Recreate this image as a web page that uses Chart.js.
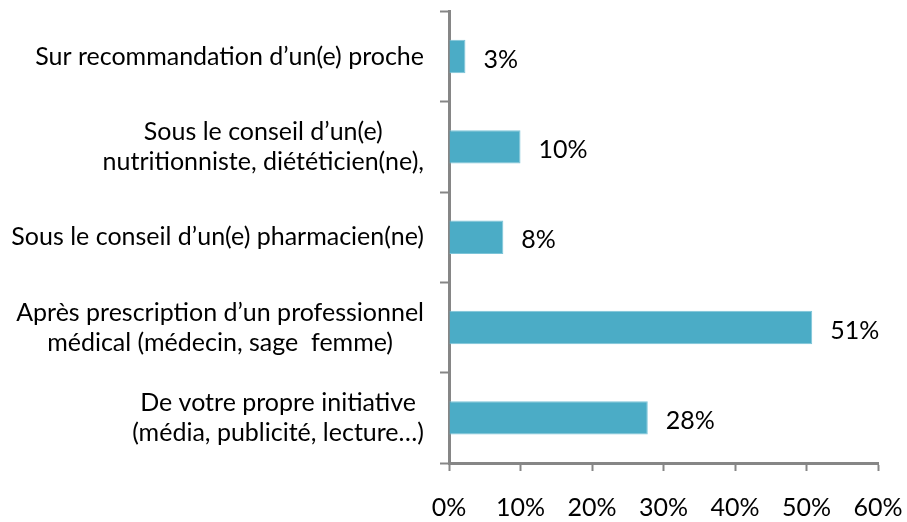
<!DOCTYPE html>
<html>
<head>
<meta charset="utf-8">
<script src="https://cdn.jsdelivr.net/npm/chart.js@4"></script>
<style>
  html, body { margin: 0; padding: 0; background: #fff; }
  #wrap { width: 907px; height: 522px; }
</style>
</head>
<body>
<div id="wrap"><canvas id="chart"></canvas></div>
<script>
// categories, top to bottom
const categories = [
    ['Sur recommandation d\u2019un(e) proche'],
    ['Sous le conseil d\u2019un(e)', 'nutritionniste, di\u00e9t\u00e9ticien(ne),'],
    ['Sous le conseil d\u2019un(e) pharmacien(ne)'],
    ['Apr\u00e8s prescription d\u2019un professionnel', 'm\u00e9dical (m\u00e9decin, sage  femme)'],
    ['De votre propre initiative', '(m\u00e9dia, publicit\u00e9, lecture\u2026)']
];
const values = [2.3, 10, 7.6, 50.8, 27.8];
const valueLabels = ['3%', '10%', '8%', '51%', '28%'];
const xTicks = [0, 10, 20, 30, 40, 50, 60];

const FONT = 'Lato, "Open Sans", sans-serif';
const FONT_SIZE = 25;
const AXIS = '#868686';

// draws category labels: block right-aligned to axis, lines centered inside the block
const categoryLabels = {
    id: 'categoryLabels',
    afterDraw(chart) {
        const y = chart.scales.y;
        const ctx = chart.ctx;
        ctx.save();
        ctx.font = FONT_SIZE + 'px ' + FONT;
        ctx.fillStyle = '#000';
        ctx.textAlign = 'center';
        ctx.textBaseline = 'middle';
        const lineH = 30;
        categories.forEach((lines, i) => {
            const cy = y.getPixelForTick(i);
            const w = Math.max(...lines.map(l => ctx.measureText(l).width));
            const cx = y.right - 25 - w / 2;
            lines.forEach((line, j) => {
                ctx.fillText(line, cx, cy + (j - (lines.length - 1) / 2) * lineH);
            });
        });
        ctx.restore();
    }
};

// value labels right of each bar
const valueLabelPlugin = {
    id: 'valueLabels',
    afterDatasetsDraw(chart) {
        const ctx = chart.ctx;
        const meta = chart.getDatasetMeta(0);
        ctx.save();
        ctx.font = FONT_SIZE + 'px ' + FONT;
        ctx.fillStyle = '#000';
        ctx.textAlign = 'left';
        ctx.textBaseline = 'middle';
        meta.data.forEach((bar, i) => {
            ctx.fillText(valueLabels[i], bar.x + 18, bar.y + 3);
        });
        ctx.restore();
    }
};

new Chart(document.getElementById('chart'), {
    type: 'bar',
    data: {
        labels: categories.map(c => c.join(' ')),
        datasets: [{
            data: values,
            backgroundColor: '#4BACC6',
            borderColor: '#7cc4d8',
            borderWidth: 1,
            categoryPercentage: 1,
            barPercentage: 0.37
        }]
    },
    options: {
        indexAxis: 'y',
        responsive: true,
        maintainAspectRatio: false,
        animation: false,
        layout: { padding: { top: 10, right: 29, left: 0, bottom: 2 } },
        plugins: {
            legend: { display: false },
            tooltip: { enabled: false }
        },
        scales: {
            y: {
                afterFit(scale) { scale.width = 449; },
                border: { color: AXIS, width: 3 },
                grid: {
                    drawOnChartArea: false,
                    drawTicks: true,
                    tickLength: 9,
                    tickColor: AXIS,
                    tickWidth: 2
                },
                ticks: { color: 'transparent', font: { size: 14, family: FONT } }
            },
            x: {
                min: 0,
                max: 60,
                afterBuildTicks(scale) { scale.ticks = xTicks.map(v => ({ value: v })); },
                afterFit(scale) {
                    scale.height = 57;
                    scale.paddingRight = 0;
                    scale.paddingLeft = 0;
                },
                border: { color: AXIS, width: 3 },
                grid: {
                    drawOnChartArea: false,
                    drawTicks: true,
                    tickLength: 8,
                    tickColor: AXIS,
                    tickWidth: 2
                },
                ticks: {
                    color: '#000',
                    padding: 22,
                    maxRotation: 0,
                    font: { size: FONT_SIZE, family: FONT },
                    callback: v => v + '%'
                }
            }
        }
    },
    plugins: [categoryLabels, valueLabelPlugin]
});
</script>
</body>
</html>
